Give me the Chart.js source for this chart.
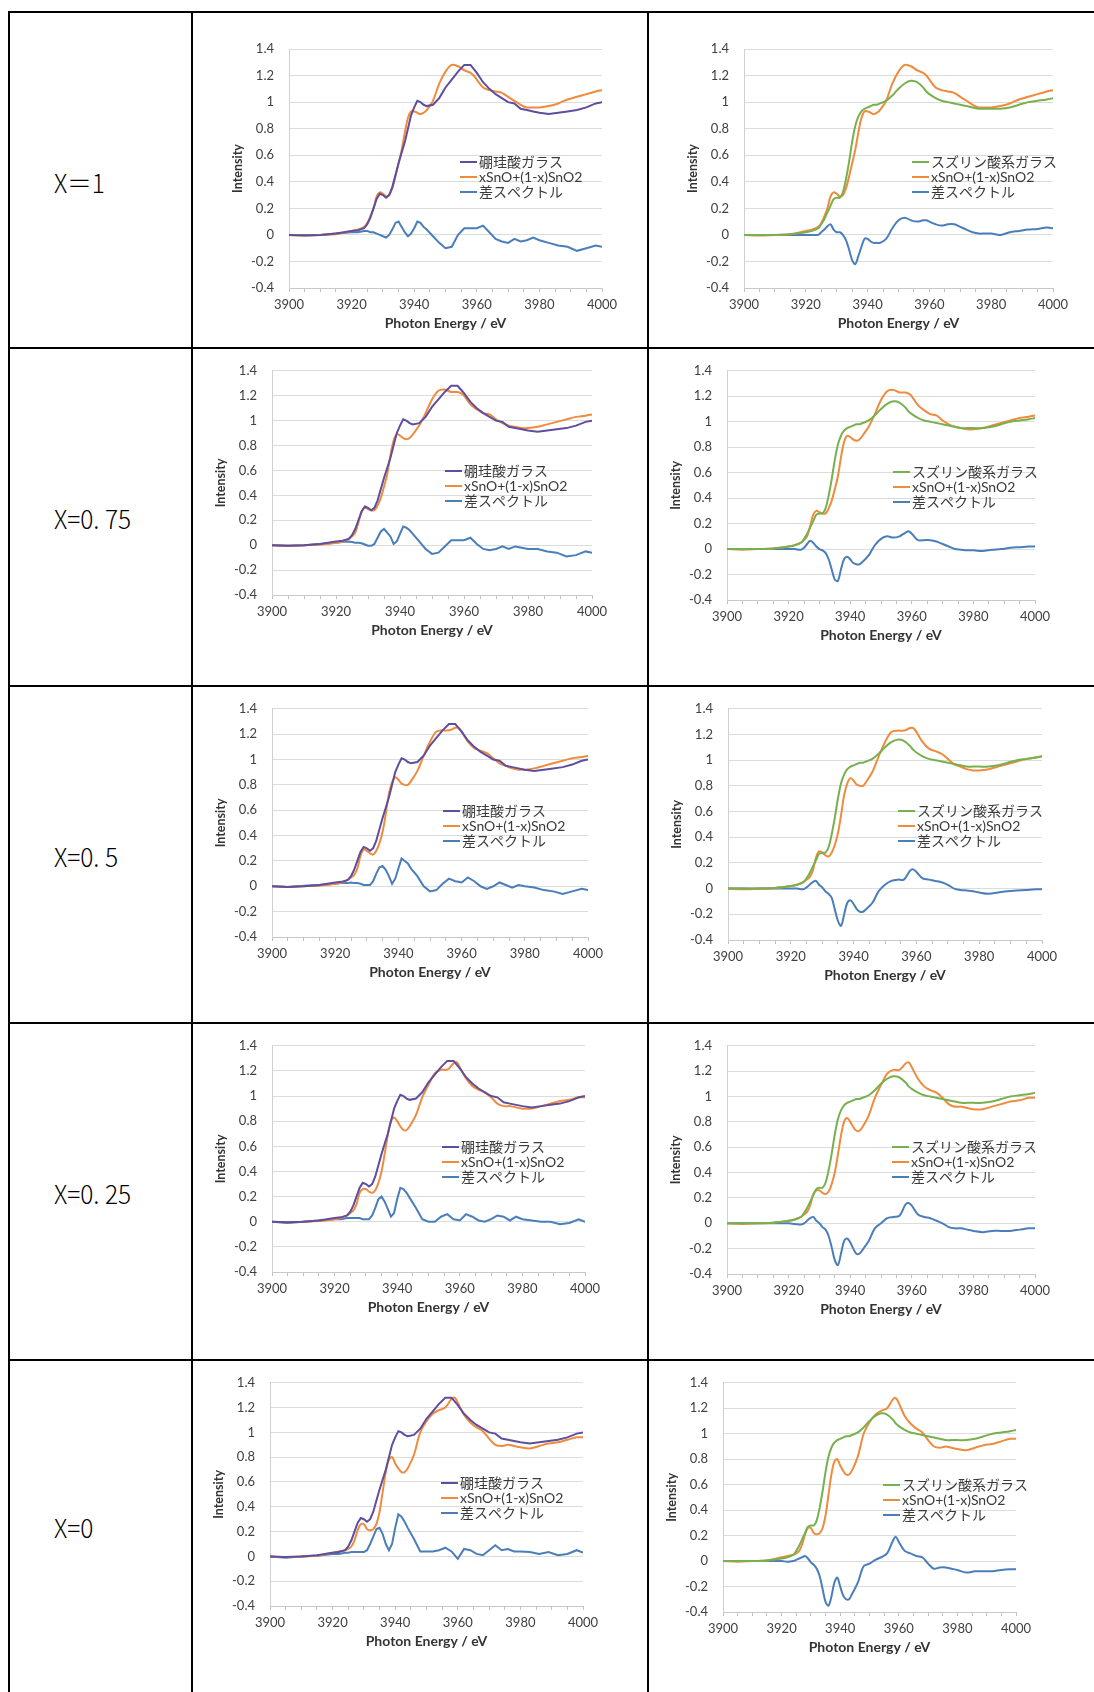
<!DOCTYPE html>
<html>
<head>
<meta charset="utf-8">
<title>Sn K-edge XANES</title>
<script src="https://cdn.jsdelivr.net/npm/chart.js@4.4.0/dist/chart.umd.min.js"></script>
<style>
  body { margin: 0; background: #fff; }
  #page { position: relative; width: 1094px; height: 1692px; overflow: hidden; }
  .cell { position: absolute; }
  .rule { position: absolute; background: #000; z-index: 2; }
  .xlabel { position: absolute; left: 54px; font: 300 26px 'Noto Sans CJK JP', sans-serif; color: #000; transform: translateY(-50%) scaleX(0.94); transform-origin: left center; white-space: nowrap; }
</style>
</head>
<body>
<div id="page"></div>
<script>
// photon energy (eV)
const energy = [
  3900, 3905, 3910, 3915, 3920, 3922, 3924, 3925, 3926, 3927,
  3928, 3929, 3930, 3931, 3932, 3933, 3934, 3935, 3936, 3937,
  3938, 3939, 3940, 3941, 3942, 3943, 3944, 3946, 3948, 3950,
  3952, 3954, 3956, 3958, 3959, 3960, 3962, 3964, 3966, 3968,
  3970, 3972, 3974, 3976, 3978, 3980, 3983, 3986, 3989, 3992,
  3995, 3998, 4000
];

// 硼珪酸ガラス
const boroGlass = [
  0, -0.005, 0, 0.01, 0.03, 0.035, 0.05, 0.08, 0.13, 0.2,
  0.27, 0.31, 0.3, 0.28, 0.3, 0.36, 0.45, 0.54, 0.62, 0.7,
  0.8, 0.9, 0.96, 1.01, 1.0, 0.98, 0.97, 0.98, 1.03, 1.11,
  1.17, 1.23, 1.28, 1.28, 1.25, 1.22, 1.15, 1.1, 1.06, 1.03,
  1.0, 0.99, 0.95, 0.94, 0.93, 0.92, 0.91, 0.92, 0.93, 0.94,
  0.96, 0.99, 1.0
];

// スズリン酸系ガラス
const tinPhosGlass = [
  0, 0, 0, 0.005, 0.02, 0.03, 0.05, 0.08, 0.12, 0.17,
  0.22, 0.27, 0.28, 0.28, 0.32, 0.42, 0.55, 0.7, 0.82, 0.89,
  0.93, 0.95, 0.96, 0.97, 0.98, 0.98, 0.99, 1.01, 1.05, 1.1,
  1.14, 1.16, 1.15, 1.11, 1.08, 1.06, 1.03, 1.01, 1.0, 0.99,
  0.98, 0.97, 0.96, 0.95, 0.95, 0.95, 0.95, 0.96, 0.98, 1.0,
  1.01, 1.02, 1.03
];

// xSnO+(1-x)SnO2
const mixX100 = [
  0, -0.005, 0, 0.005, 0.03, 0.04, 0.06, 0.09, 0.14, 0.2,
  0.29, 0.32, 0.31, 0.29, 0.3, 0.35, 0.44, 0.54, 0.64, 0.77,
  0.88, 0.93, 0.93, 0.92, 0.91, 0.92, 0.94, 1.01, 1.14, 1.23,
  1.28, 1.27, 1.24, 1.22, 1.2, 1.17, 1.11, 1.09, 1.08, 1.07,
  1.04, 1.01, 0.98, 0.96, 0.96, 0.96, 0.97, 0.99, 1.02, 1.04,
  1.06, 1.08, 1.09
];
const mixX075 = [
  0, -0.005, 0, 0.005, 0.02, 0.03, 0.05, 0.07, 0.1, 0.18,
  0.27, 0.3, 0.29, 0.28, 0.28, 0.32, 0.38, 0.47, 0.57, 0.72,
  0.84, 0.89, 0.88, 0.86, 0.85, 0.86, 0.89, 0.96, 1.06, 1.17,
  1.24, 1.25, 1.23, 1.23, 1.22, 1.2, 1.13, 1.09, 1.06, 1.05,
  1.01, 0.98, 0.96, 0.95, 0.94, 0.94, 0.95, 0.97, 0.99, 1.01,
  1.03, 1.04, 1.05
];
const mixX050 = [
  0, -0.005, 0, 0.005, 0.02, 0.03, 0.05, 0.07, 0.09, 0.14,
  0.24, 0.29, 0.28, 0.26, 0.25, 0.28, 0.34, 0.43, 0.57, 0.73,
  0.82, 0.86, 0.84, 0.81, 0.8, 0.8, 0.83, 0.91, 1.03, 1.14,
  1.22, 1.23, 1.23, 1.25, 1.25, 1.22, 1.14, 1.09, 1.07, 1.05,
  1.01, 0.97, 0.95, 0.93, 0.92, 0.92, 0.93, 0.95, 0.97, 0.99,
  1.01, 1.02, 1.03
];
const mixX025 = [
  0, -0.005, 0, 0.005, 0.02, 0.03, 0.05, 0.07, 0.09, 0.14,
  0.23, 0.26, 0.26, 0.24, 0.23, 0.25, 0.31, 0.4, 0.54, 0.69,
  0.8, 0.83, 0.8, 0.76, 0.73, 0.73, 0.76, 0.85, 0.99, 1.09,
  1.18, 1.21, 1.21, 1.26, 1.27, 1.23, 1.14, 1.08, 1.05, 1.03,
  0.99, 0.94, 0.92, 0.92, 0.91, 0.9, 0.9, 0.92, 0.94, 0.96,
  0.97, 0.99, 0.99
];
const mixX000 = [
  0, -0.005, 0, 0.005, 0.03, 0.04, 0.05, 0.06, 0.08, 0.13,
  0.21, 0.26, 0.26, 0.22, 0.21, 0.22, 0.26, 0.36, 0.52, 0.68,
  0.78, 0.8, 0.75, 0.71, 0.68, 0.68, 0.71, 0.82, 1.0, 1.09,
  1.15, 1.18, 1.2, 1.27, 1.28, 1.24, 1.14, 1.08, 1.04, 1.01,
  0.95, 0.9, 0.89, 0.9, 0.89, 0.88, 0.87, 0.89, 0.91, 0.92,
  0.94, 0.96, 0.96
];

// 差スペクトル, 硼珪酸ガラス column
const diffL100 = [
  0, 0, 0, 0.01, 0.02, 0.02, 0.03, 0.03, 0.02, 0.02,
  0.01, 0, -0.01, -0.02, 0, 0.04, 0.09, 0.1, 0.06, 0.02,
  -0.01, 0.01, 0.05, 0.1, 0.09, 0.06, 0.04, -0.01, -0.06, -0.1,
  -0.09, 0, 0.05, 0.05, 0.05, 0.05, 0.07, 0.02, -0.03, -0.05,
  -0.06, -0.03, -0.05, -0.04, -0.02, -0.04, -0.06, -0.08, -0.09, -0.12,
  -0.1, -0.08, -0.09
];
const diffL075 = [
  0, -0.005, 0, 0.01, 0.02, 0.025, 0.03, 0.025, 0.02, 0.02,
  0.015, 0.005, -0.005, -0.005, 0.01, 0.06, 0.11, 0.13, 0.1, 0.07,
  0.01, 0.03, 0.09, 0.15, 0.14, 0.12, 0.09, 0.03, -0.03, -0.07,
  -0.06, -0.01, 0.04, 0.04, 0.04, 0.04, 0.06, 0.01, -0.03, -0.04,
  -0.03, -0.01, -0.03, -0.01, -0.02, -0.03, -0.03, -0.05, -0.06, -0.09,
  -0.08, -0.05, -0.06
];
const diffL050 = [
  0, -0.005, 0.005, 0.01, 0.02, 0.025, 0.025, 0.03, 0.025, 0.025,
  0.02, 0.01, 0.01, 0.01, 0.04, 0.1, 0.15, 0.16, 0.13, 0.08,
  0.02, 0.06, 0.14, 0.22, 0.2, 0.18, 0.14, 0.08, 0, -0.04,
  -0.03, 0.02, 0.06, 0.04, 0.035, 0.03, 0.07, 0.04, 0, -0.02,
  0, 0.03, 0.01, -0.01, 0.01, 0, -0.01, -0.03, -0.04, -0.06,
  -0.04, -0.02, -0.03
];
const diffL025 = [
  0, -0.01, 0, 0.01, 0.02, 0.02, 0.03, 0.03, 0.03, 0.03,
  0.03, 0.02, 0.02, 0.02, 0.05, 0.11, 0.18, 0.2, 0.16, 0.1,
  0.04, 0.07, 0.18, 0.27, 0.26, 0.23, 0.19, 0.11, 0.02, 0,
  0, 0.04, 0.06, 0.02, 0.015, 0.01, 0.06, 0.04, 0.01, 0,
  0.02, 0.05, 0.04, 0.01, 0.04, 0.02, 0.01, 0, 0, -0.02,
  -0.01, 0.02, 0
];
const diffL000 = [
  0, -0.01, 0, 0.005, 0.02, 0.02, 0.03, 0.03, 0.035, 0.035,
  0.035, 0.035, 0.035, 0.05, 0.1, 0.16, 0.22, 0.23, 0.18, 0.1,
  0.05, 0.1, 0.23, 0.34, 0.32, 0.28, 0.23, 0.14, 0.04, 0.04,
  0.04, 0.05, 0.07, 0.04, 0.01, -0.02, 0.06, 0.05, 0.02, 0.01,
  0.05, 0.09, 0.05, 0.06, 0.04, 0.04, 0.035, 0.02, 0.035, 0.01,
  0.02, 0.05, 0.03
];

// 差スペクトル, スズリン酸系ガラス column
const diffR100 = [
  0, 0, 0, 0, 0, 0, 0, 0.02, 0.04, 0.065,
  0.08, 0.04, 0.02, 0.02, 0, -0.04, -0.11, -0.19, -0.22, -0.16,
  -0.09, -0.03, -0.03, -0.05, -0.06, -0.06, -0.06, -0.03, 0.05, 0.11,
  0.13, 0.11, 0.1, 0.11, 0.11, 0.1, 0.08, 0.07, 0.08, 0.08,
  0.06, 0.04, 0.02, 0.01, 0.01, 0.01, 0, 0.02, 0.03, 0.04,
  0.045, 0.055, 0.05
];
const diffR075 = [
  0, 0, 0, 0, 0, 0, -0.005, 0.01, 0.04, 0.065,
  0.05, 0.02, 0, -0.01, -0.03, -0.08, -0.16, -0.24, -0.25, -0.16,
  -0.08, -0.06, -0.08, -0.11, -0.12, -0.12, -0.1, -0.05, 0.03, 0.08,
  0.1, 0.09, 0.1, 0.13, 0.14, 0.12, 0.07, 0.07, 0.07, 0.06,
  0.04, 0.02, 0, -0.005, -0.01, -0.01, -0.015, -0.005, 0, 0.01,
  0.015, 0.02, 0.02
];
const diffR050 = [
  0, 0, 0, 0, 0, 0, -0.005, 0.01, 0.03, 0.05,
  0.06, 0.03, 0.01, -0.02, -0.04, -0.07, -0.16, -0.25, -0.29, -0.2,
  -0.11, -0.09, -0.12, -0.16, -0.18, -0.18, -0.16, -0.11, -0.02, 0.03,
  0.06, 0.07, 0.07, 0.14, 0.15, 0.13, 0.08, 0.07, 0.06, 0.05,
  0.03, 0, -0.01, -0.015, -0.02, -0.03, -0.04, -0.03, -0.02, -0.015,
  -0.01, -0.005, -0.005
];
const diffR025 = [
  0, 0, 0, 0, 0, -0.005, -0.01, 0, 0.02, 0.04,
  0.05, 0.02, 0, -0.03, -0.05, -0.1, -0.19, -0.29, -0.33, -0.24,
  -0.14, -0.12, -0.15, -0.2, -0.24, -0.24, -0.21, -0.14, -0.04, 0,
  0.04, 0.05, 0.06, 0.15, 0.16, 0.14, 0.07, 0.05, 0.04, 0.02,
  0, -0.03, -0.04, -0.04, -0.05, -0.06, -0.07, -0.06, -0.06, -0.06,
  -0.05, -0.04, -0.04
];
const diffR000 = [
  0, 0, 0, 0, 0, -0.005, 0, 0.01, 0.02, 0.03,
  0.04, 0.02, -0.01, -0.03, -0.06, -0.12, -0.22, -0.32, -0.35, -0.28,
  -0.17, -0.13, -0.2, -0.27, -0.3, -0.3, -0.26, -0.17, -0.04, -0.02,
  0.01, 0.03, 0.06, 0.16, 0.19, 0.15, 0.08, 0.06, 0.04, 0.03,
  -0.02, -0.06, -0.05, -0.05, -0.06, -0.07, -0.09, -0.08, -0.08, -0.08,
  -0.07, -0.065, -0.065
];

const rowLabels = ['X＝1', 'X=0. 75', 'X=0. 5', 'X=0. 25', 'X=0'];
const mixes = [mixX100, mixX075, mixX050, mixX025, mixX000];
const diffsL = [diffL100, diffL075, diffL050, diffL025, diffL000];
const diffsR = [diffR100, diffR075, diffR050, diffR025, diffR000];

const colors = { boro: '#5f4e9e', tin: '#77b04f', mix: '#ef8b3d', diff: '#4a7ebb' };

// table geometry (page px)
const rowEdges = [13, 348, 686, 1023, 1360, 1692];
const colEdges = [192, 648, 1094];

// plot area [left, top, right, bottom] and legend start [x, y] of each chart
const layoutL = [
  { box: [289, 49, 602, 288], legend: [460, 162] },
  { box: [272, 362, 592, 595], legend: [445, 471] },
  { box: [272, 700, 588, 937], legend: [443, 811] },
  { box: [272, 1037, 585, 1272], legend: [442, 1147] },
  { box: [270, 1376, 583, 1606], legend: [441, 1483] }
];
const layoutR = [
  { box: [744, 49, 1053, 288], legend: [912, 162] },
  { box: [727, 362, 1035, 600], legend: [893, 472] },
  { box: [728, 701, 1042, 940], legend: [898, 811] },
  { box: [727, 1037, 1035, 1274], legend: [892, 1147] },
  { box: [723, 1376, 1016, 1612], legend: [883, 1485] }
];

Chart.defaults.font.family = "Lato, 'Noto Sans CJK JP', sans-serif";

const toPoints = (ys) => energy.map((e, i) => ({ x: e, y: ys[i] }));

// legend drawn inside the plot, like the original spreadsheet charts
const inlineLegend = {
  id: 'inlineLegend',
  afterDatasetsDraw(chart, args, opts) {
    const ctx = chart.ctx;
    ctx.save();
    ctx.font = "14px Lato, 'Noto Sans CJK JP', sans-serif";
    ctx.textBaseline = 'middle';
    chart.data.datasets.forEach((ds, i) => {
      const y = opts.y + i * 15;
      ctx.strokeStyle = ds.borderColor;
      ctx.lineWidth = 2;
      ctx.beginPath();
      ctx.moveTo(opts.x, y);
      ctx.lineTo(opts.x + 17, y);
      ctx.stroke();
      ctx.fillStyle = '#3a3a3a';
      ctx.fillText(ds.label, opts.x + 19, y);
    });
    ctx.restore();
  }
};

const page = document.getElementById('page');

const addRule = (x, y, w, h) => {
  const d = document.createElement('div');
  d.className = 'rule';
  d.style.left = x + 'px';
  d.style.top = y + 'px';
  d.style.width = w + 'px';
  d.style.height = h + 'px';
  page.appendChild(d);
};

const makeChart = (cell, lay, sets) => {
  const [cx, cy, cw, ch] = cell;
  const [L, T, R, B] = lay.box;
  const holder = document.createElement('div');
  holder.className = 'cell';
  holder.style.left = cx + 'px';
  holder.style.top = cy + 'px';
  const canvas = document.createElement('canvas');
  canvas.width = cw;
  canvas.height = ch;
  canvas.style.width = cw + 'px';
  canvas.style.height = ch + 'px';
  holder.appendChild(canvas);
  page.appendChild(holder);

  new Chart(canvas, {
    type: 'line',
    data: {
      datasets: sets.map(s => ({
        label: s.label,
        data: toPoints(s.data),
        borderColor: s.color,
        backgroundColor: s.color,
        borderWidth: 2,
        pointRadius: 0,
        tension: s.smooth ? 0.35 : 0,
        fill: false
      }))
    },
    options: {
      responsive: false,
      animation: false,
      devicePixelRatio: 1,
      layout: { padding: { left: 0, top: T - cy, right: cx + cw - R, bottom: 0 } },
      plugins: {
        legend: { display: false },
        tooltip: { enabled: false },
        inlineLegend: { x: lay.legend[0] - cx, y: lay.legend[1] - cy }
      },
      scales: {
        x: {
          type: 'linear',
          min: 3900,
          max: 4000,
          ticks: {
            stepSize: 5,
            autoSkip: false,
            maxRotation: 0,
            padding: 5,
            color: '#404040',
            font: { size: 13 },
            callback: v => (v % 20 === 0 ? String(v) : '')
          },
          grid: { drawOnChartArea: false, drawTicks: true, tickLength: 4, color: '#c0c0c0' },
          border: { color: '#c8c8c8' },
          title: {
            display: true,
            text: 'Photon Energy / eV',
            color: '#333',
            font: { size: 14, weight: 'bold' },
            padding: { top: 0, bottom: (cy + ch) - (B + 35) - 8.4 }
          },
          afterFit: s => { s.height = cy + ch - B; }
        },
        y: {
          min: -0.4,
          max: 1.4,
          ticks: {
            stepSize: 0.2,
            padding: 15,
            color: '#404040',
            font: { size: 13 },
            callback: v => String(Math.round(v * 10) / 10)
          },
          grid: { color: '#dcdcdc', drawTicks: false },
          border: { color: '#d0d0d0' },
          title: {
            display: true,
            text: 'Intensity',
            color: '#333',
            font: { size: 12.5, weight: 'bold' },
            padding: { top: (L - 51) - cx - 7.5, bottom: 0 }
          },
          afterFit: s => { s.width = L - cx; }
        }
      }
    },
    plugins: [inlineLegend]
  });
};

rowLabels.forEach((text, r) => {
  const top = rowEdges[r];
  const h = rowEdges[r + 1] - top;

  const lab = document.createElement('div');
  lab.className = 'xlabel';
  lab.style.top = (top + h / 2) + 'px';
  lab.textContent = text;
  page.appendChild(lab);

  makeChart([colEdges[0], top, colEdges[1] - colEdges[0], h], layoutL[r], [
    { label: '硼珪酸ガラス', data: boroGlass, color: colors.boro },
    { label: 'xSnO+(1-x)SnO2', data: mixes[r], color: colors.mix, smooth: true },
    { label: '差スペクトル', data: diffsL[r], color: colors.diff }
  ]);
  makeChart([colEdges[1], top, colEdges[2] - colEdges[1], h], layoutR[r], [
    { label: 'スズリン酸系ガラス', data: tinPhosGlass, color: colors.tin, smooth: true },
    { label: 'xSnO+(1-x)SnO2', data: mixes[r], color: colors.mix, smooth: true },
    { label: '差スペクトル', data: diffsR[r], color: colors.diff, smooth: true }
  ]);
});

// table rules
addRule(9, 11, 1085, 2);
[348, 686, 1023, 1360].forEach(y => addRule(9, y - 1, 1085, 2));
[9, 192, 648].forEach(x => addRule(x - 1, 11, 2, 1681));
</script>
</body>
</html>
